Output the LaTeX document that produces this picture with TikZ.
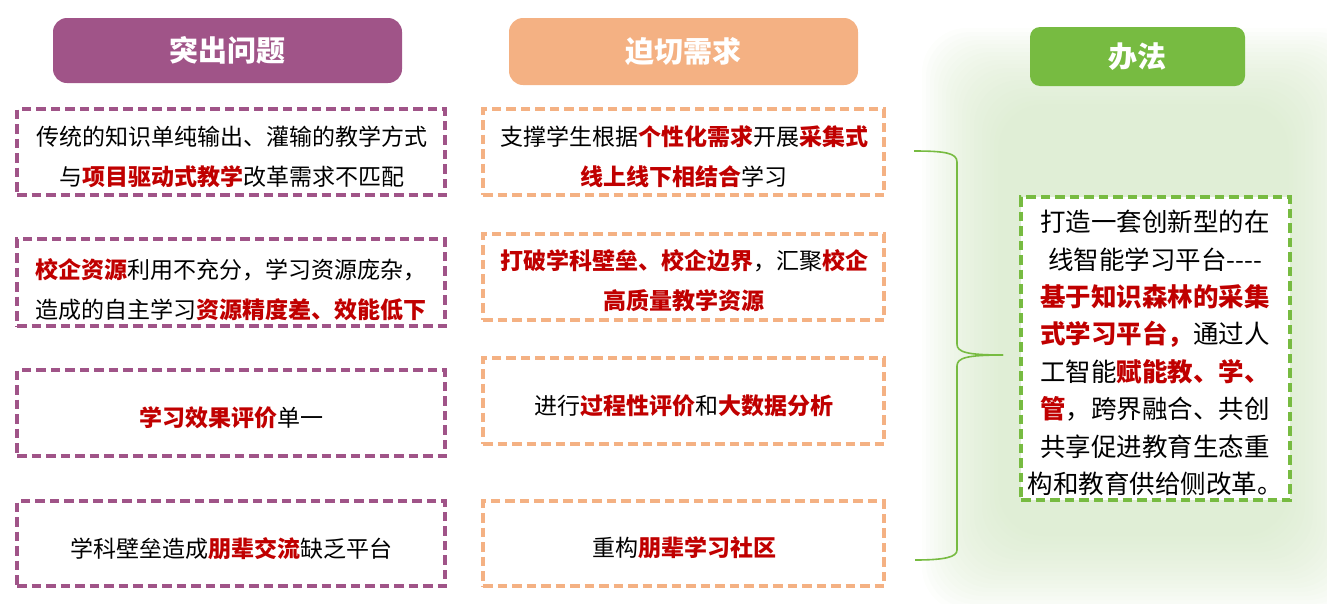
\documentclass[tikz,border=0pt]{standalone}
\usepackage{fontspec}
\setmainfont{Noto Sans CJK SC}
\definecolor{hlred}{HTML}{C00000}
\definecolor{purp}{HTML}{A05488}
\definecolor{peach}{HTML}{F4B183}
\definecolor{grn}{HTML}{77BB41}
\definecolor{glowc}{RGB}{210,230,195}
\newcommand\redb[1]{{\bfseries\color{hlred}#1}}
\begin{document}
\begin{tikzpicture}[x=1pt,y=-1pt,
  header/.style={rounded corners=14pt, inner sep=0pt, text=white, font=\fontsize{29}{33}\selectfont\bfseries},
  dbox/.style={line width=3.2pt, dash pattern=on 9.5pt off 5pt, inner sep=0pt},
  pbox/.style={dbox, draw=purp, minimum width=428pt},
  obox/.style={dbox, draw=peach, minimum width=401pt},
  txt/.style={align=center, inner sep=0pt, font=\fontsize{23}{40}\selectfont},
  rtxt/.style={align=center, inner sep=0pt, font=\fontsize{25.5}{37.4}\selectfont},
  brace/.style={draw=grn, line width=1.6pt}
]
\useasboundingbox (0,0) rectangle (1327,603);
% glow background
\foreach \i in {0,...,19}
  \fill[glowc, opacity=0.055, rounded corners=45pt] (922+4*\i,28+4*\i) rectangle (1365-4*\i,612-4*\i);

% headers
\node[header, fill=purp, minimum width=349pt, minimum height=65pt] (h1) at (227.5,50.5) {突出问题};
\node[header, fill=peach, minimum width=349pt, minimum height=67pt] (h2) at (683.5,51.5) {迫切需求};
\node[header, fill=grn, minimum width=215pt, minimum height=59pt, rounded corners=10pt] (h3) at (1137.5,56.5) {办法};

% left boxes
\node[pbox, minimum height=86pt] (l1) at (231,152) {};
\node[pbox, minimum height=87pt] (l2) at (231,282.5) {};
\node[pbox, minimum height=86pt] (l3) at (231,413) {};
\node[pbox, minimum height=85pt] (l4) at (231,543.5) {};
\node[txt] (tl1) at (232,157) {传统的知识单纯输出、灌输的教学方式\\与\redb{项目驱动式教学}改革需求不匹配};
\node[txt] (tl2) at (231,290) {\redb{校企资源}利用不充分，学习资源庞杂，\\造成的自主学习\redb{资源精度差、效能低下}};
\node[txt] (tl3) at (231,418) {\redb{学习效果评价}单一};
\node[txt] (tl4) at (231,549) {学科壁垒造成\redb{朋辈交流}缺乏平台};

% middle boxes
\node[obox, minimum height=86pt] (m1) at (683.5,152) {};
\node[obox, minimum height=86pt] (m2) at (683.5,277) {};
\node[obox, minimum height=86pt] (m3) at (683.5,401) {};
\node[obox, minimum height=85pt] (m4) at (683.5,543.5) {};
\node[txt] (tm1) at (684,157) {支撑学生根据\redb{个性化需求}开展\redb{采集式}\\\redb{线上线下相结合}学习};
\node[txt] (tm2) at (684,281) {\redb{打破学科壁垒、校企边界}，汇聚\redb{校企}\\\redb{高质量教学资源}};
\node[txt] (tm3) at (684,406) {进行\redb{过程性评价}和\redb{大数据分析}};
\node[txt] (tm4) at (684,548) {重构\redb{朋辈学习社区}};

% right box
\node[dbox, draw=grn, fill=white, minimum width=269pt, minimum height=303pt] (r) at (1155.5,348.5) {};
\node[rtxt] (tr) at (1155,353) {打造一套创新型的在\\线智能学习平台-{}-{}-{}-\\\redb{基于知识森林的采集}\\\redb{式学习平台，}通过人\\工智能\redb{赋能教、学、}\\\redb{管}，跨界融合、共创\\共享促进教育生态重\\构和教育供给侧改革。};

% brace
\coordinate (btop) at (914,151);
\coordinate (btip) at (1003,355);
\coordinate (bbot) at (915,560);
\draw[brace] (btop) .. controls (945,151) and (957,153) .. (957,162) -- (957,344)
  .. controls (957,352) and (966,355) .. (btip);
\draw[brace] (btip) .. controls (966,355) and (957,358) .. (957,366) -- (957,550)
  .. controls (957,557) and (945,560) .. (bbot);
\end{tikzpicture}
\end{document}
